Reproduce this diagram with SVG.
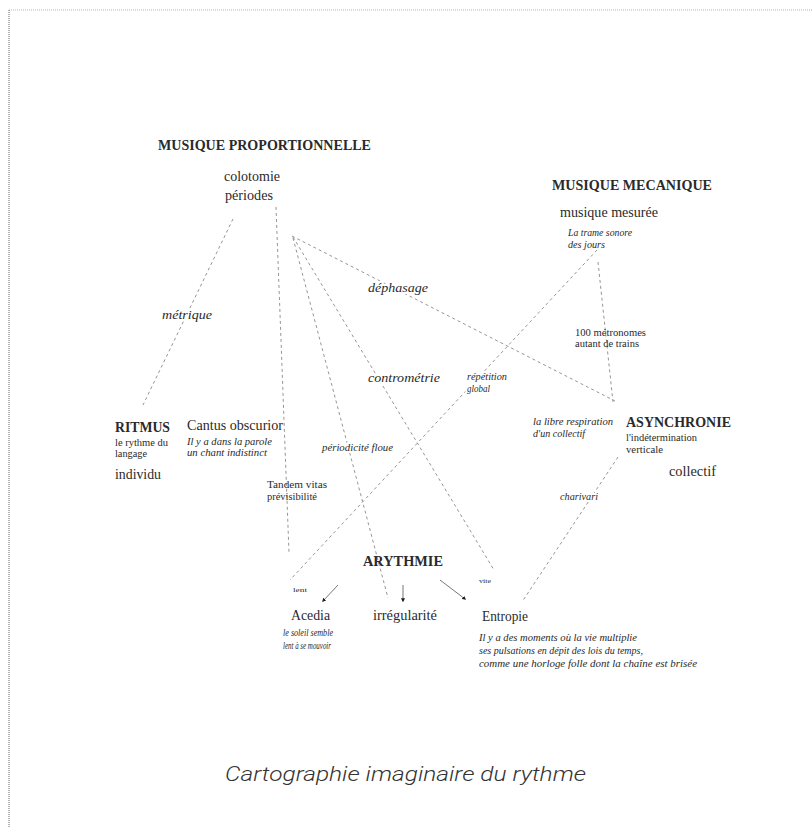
<svg xmlns="http://www.w3.org/2000/svg" width="812" height="828" viewBox="0 0 812 828">
<style>
text{font-family:"Liberation Serif","Times New Roman",serif;fill:#2a2a2a}
.h{font-weight:bold;font-size:14px}
.m{font-size:14.5px}
.s{font-size:10px}
.si{font-size:10px;font-style:italic}
.li{font-size:13px;font-style:italic}
.t{font-size:7px}
.halo{paint-order:stroke;stroke:#fff;stroke-width:4px;stroke-linejoin:round}
.dash{fill:none;stroke:#969696;stroke-width:1;stroke-dasharray:3 3}
.arr{fill:none;stroke:#777;stroke-width:1;marker-end:url(#dot)}
.cap{font-family:Roboto,"Open Sans",sans-serif;font-style:italic;font-weight:300;font-size:21px;fill:#333}
</style>
<defs>
<marker id="dot" viewBox="0 0 6 6" refX="4" refY="3" markerWidth="4" markerHeight="4" orient="auto" markerUnits="userSpaceOnUse">
<path d="M0,0 L6,3 L0,6 z" fill="#1a1a1a"/>
</marker>
</defs>
<rect width="812" height="828" fill="#fff"/>
<g id="frame">
<line x1="9" y1="10" x2="812" y2="10" stroke="#b5b5b5" stroke-width="1" stroke-dasharray="1 1"/>
<line x1="9" y1="10" x2="9" y2="828" stroke="#666" stroke-width="1" stroke-dasharray="1 1"/>
</g>
<g id="connectors">
<line class="dash" x1="233" y1="219" x2="143" y2="405"/>
<line class="dash" x1="276" y1="207" x2="289" y2="553"/>
<line class="dash" x1="292" y1="236" x2="615" y2="401"/>
<line class="dash" x1="293" y1="237" x2="494" y2="570"/>
<line class="dash" x1="293" y1="238" x2="388" y2="598"/>
<line class="dash" x1="597" y1="250" x2="290" y2="580"/>
<line class="dash" x1="598" y1="262" x2="613" y2="402"/>
<line class="dash" x1="618" y1="457" x2="522" y2="602"/>
<line class="arr" x1="338" y1="585" x2="323" y2="601"/>
<line class="arr" x1="403" y1="585" x2="403" y2="601"/>
<line class="arr" x1="440" y1="580" x2="465" y2="599"/>
<text class="li halo" x="162" y="319" textLength="50" lengthAdjust="spacingAndGlyphs">métrique</text>
<text class="li halo" x="368" y="292" textLength="60" lengthAdjust="spacingAndGlyphs">déphasage</text>
<text class="li halo" x="368" y="382" textLength="72" lengthAdjust="spacingAndGlyphs">contrométrie</text>
<text class="si halo" x="467" y="380" textLength="40" lengthAdjust="spacingAndGlyphs">répétition</text>
<text class="si halo" x="467" y="392" textLength="23" lengthAdjust="spacingAndGlyphs">global</text>
<text class="si halo" x="322" y="451" textLength="71" lengthAdjust="spacingAndGlyphs">périodicité floue</text>
<text class="si halo" x="560" y="500" textLength="38" lengthAdjust="spacingAndGlyphs">charivari</text>
<text class="t" x="293" y="592" textLength="14" lengthAdjust="spacingAndGlyphs">lent</text>
<text class="t" x="479" y="583" textLength="12" lengthAdjust="spacingAndGlyphs">vite</text>
</g>
<g id="musique-proportionnelle">
<text class="h" x="158" y="150" textLength="213" lengthAdjust="spacingAndGlyphs">MUSIQUE PROPORTIONNELLE</text>
<text class="m" x="224" y="181" textLength="56" lengthAdjust="spacingAndGlyphs">colotomie</text>
<text class="m" x="225" y="200" textLength="48" lengthAdjust="spacingAndGlyphs">périodes</text>
</g>
<g id="musique-mecanique">
<text class="h" x="552" y="190" textLength="160" lengthAdjust="spacingAndGlyphs">MUSIQUE MECANIQUE</text>
<text class="m" x="560" y="217" textLength="98" lengthAdjust="spacingAndGlyphs">musique mesurée</text>
<text class="si" x="568" y="236" textLength="64" lengthAdjust="spacingAndGlyphs">La trame sonore</text>
<text class="si" x="568" y="248" textLength="37" lengthAdjust="spacingAndGlyphs">des jours</text>
</g>
<g id="metronomes">
<text class="s" x="575" y="336" textLength="71" lengthAdjust="spacingAndGlyphs">100 métronomes</text>
<text class="s" x="575" y="347" textLength="64" lengthAdjust="spacingAndGlyphs">autant de trains</text>
</g>
<g id="ritmus">
<text class="h" x="115" y="432" textLength="55" lengthAdjust="spacingAndGlyphs">RITMUS</text>
<text class="s" x="115" y="446" textLength="53" lengthAdjust="spacingAndGlyphs">le rythme du</text>
<text class="s" x="115" y="457" textLength="32" lengthAdjust="spacingAndGlyphs">langage</text>
<text class="m" x="115" y="479" textLength="46" lengthAdjust="spacingAndGlyphs">individu</text>
</g>
<g id="cantus-obscurior">
<text class="m" x="187" y="430" textLength="96" lengthAdjust="spacingAndGlyphs">Cantus obscurior</text>
<text class="si" x="187" y="445" textLength="85" lengthAdjust="spacingAndGlyphs">Il y a dans la parole</text>
<text class="si" x="187" y="456" textLength="80" lengthAdjust="spacingAndGlyphs">un chant indistinct</text>
</g>
<g id="tandem">
<text class="s" x="267" y="488" textLength="60" lengthAdjust="spacingAndGlyphs">Tandem vitas</text>
<text class="s" x="267" y="500" textLength="50" lengthAdjust="spacingAndGlyphs">prévisibilité</text>
</g>
<g id="libre-respiration">
<text class="si" x="533" y="425" textLength="80" lengthAdjust="spacingAndGlyphs">la libre respiration</text>
<text class="si" x="533" y="437" textLength="52" lengthAdjust="spacingAndGlyphs">d'un collectif</text>
</g>
<g id="asynchronie">
<text class="h" x="626" y="427" textLength="105" lengthAdjust="spacingAndGlyphs">ASYNCHRONIE</text>
<text class="s" x="626" y="441" textLength="71" lengthAdjust="spacingAndGlyphs">l'indétermination</text>
<text class="s" x="626" y="453" textLength="37" lengthAdjust="spacingAndGlyphs">verticale</text>
<text class="m" x="669" y="476" textLength="47" lengthAdjust="spacingAndGlyphs">collectif</text>
</g>
<g id="arythmie">
<text class="h" x="363" y="566" textLength="80" lengthAdjust="spacingAndGlyphs">ARYTHMIE</text>
</g>
<g id="acedia">
<text class="m" x="291" y="620" textLength="39" lengthAdjust="spacingAndGlyphs">Acedia</text>
<text class="si" x="283" y="636" textLength="50" lengthAdjust="spacingAndGlyphs">le soleil semble</text>
<text class="si" x="283" y="649" textLength="48" lengthAdjust="spacingAndGlyphs">lent à se mouvoir</text>
</g>
<g id="irregularite">
<text class="m" x="373" y="620" textLength="64" lengthAdjust="spacingAndGlyphs">irrégularité</text>
</g>
<g id="entropie">
<text class="m" x="482" y="621" textLength="46" lengthAdjust="spacingAndGlyphs">Entropie</text>
<text class="si" x="479" y="641" textLength="158" lengthAdjust="spacingAndGlyphs">Il y a des moments où la vie multiplie</text>
<text class="si" x="479" y="654" textLength="164" lengthAdjust="spacingAndGlyphs">ses pulsations en dépit des lois du temps,</text>
<text class="si" x="479" y="667" textLength="218" lengthAdjust="spacingAndGlyphs">comme une horloge folle dont la chaîne est brisée</text>
</g>
<g id="caption">
<text class="cap" x="225" y="781" textLength="361" lengthAdjust="spacingAndGlyphs">Cartographie imaginaire du rythme</text>
</g>
</svg>
